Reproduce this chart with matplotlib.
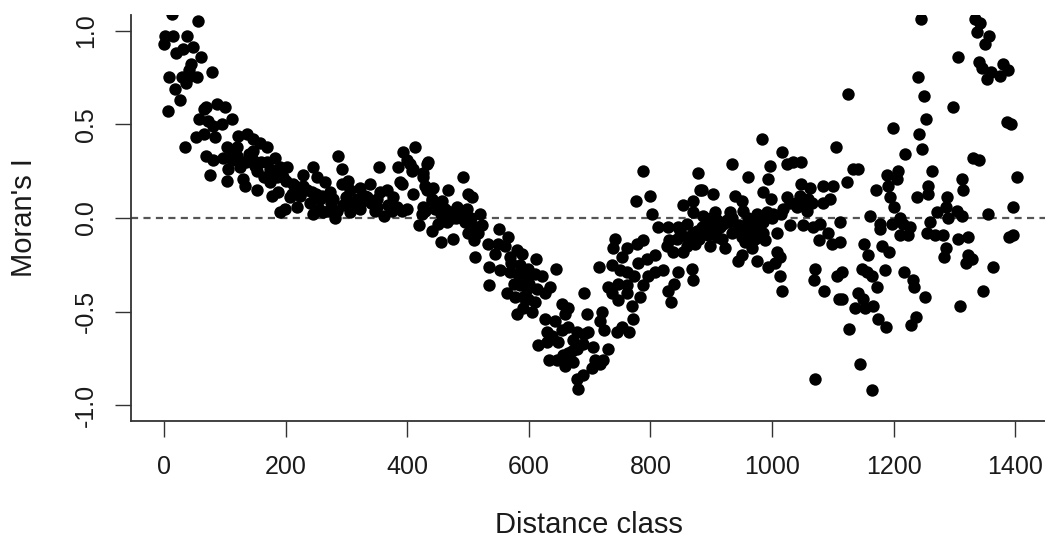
import matplotlib
matplotlib.use("Agg")
import matplotlib.pyplot as plt
import numpy as np

# left to right more or less
dist_a = [13, 56, 2, 15, 38, 0, 48, 31, 20, 61, 44, 41, 79, 8, 30, 54, 39, 36, 18, 26, 7, 69, 87, 100, 66, 112, 58, 72, 95, 81, 66, 53, 84, 35,
          122, 137, 146, 158, 169, 104, 120, 146, 69, 81, 97, 112, 130, 146, 183, 169, 105, 76, 104, 130, 133, 153, 153, 174, 191, 202, 186, 174, 178, 188,
          191, 199, 219, 207, 212, 229, 245, 252, 265, 229, 243, 224, 257, 273, 278, 286, 293, 245, 270, 281, 285, 293, 303, 306, 322, 339, 317, 334, 306, 322,
          350, 367, 355, 347, 362, 354, 383, 400, 377, 388, 385, 413, 393, 400, 410, 433, 426, 410, 433, 426, 419]
moran_a = [1.09, 1.05, .97, .97, .97, .93, .91, .90, .88, .86, .82, .79, .78, .75, .75, .75, .75, .72, .69, .63, .57, .59, .61, .59, .58, .53, .53, .52, .50, .49, .45, .43, .43, .38,
           .44, .45, .42, .40, .38, .38, .38, .36, .33, .31, .32, .31, .30, .31, .32, .30, .26, .23, .20, .21, .17, .25, .15, .26, .27, .27, .22, .19, .12, .14,
           .03, .05, .06, .11, .18, .23, .27, .22, .19, .17, .14, .12, .10, .14, .10, .33, .26, .02, .04, 0, .04, .18, .20, .15, .16, .18, .10, .11, .03, .05,
           .10, .15, .14, .04, .01, .27, .06, .05, .11, .19, .27, .38, .35, .31, .26, .29, .22, .13, .15, .06, -.04]

dist_b = [405, 408, 392, 434, 426, 492, 429, 443, 467, 500, 507, 457, 441, 392, 429, 424, 446, 462, 482, 498, 459, 474, 487, 520, 441, 456, 475, 503, 523, 507, 517, 510,
          551, 566, 533, 549, 561, 581, 589, 569, 544, 512, 535, 553, 569, 612, 599, 582, 622, 597, 645, 535, 635, 564, 577, 597, 614, 627, 599, 610, 591, 605, 581,
          691, 655, 665, 660, 696, 721, 627, 643, 717, 724, 665, 679, 697, 630, 638, 648, 673, 689, 706, 615, 630, 730, 671, 656, 633, 646, 673, 660, 709, 722, 717, 704, 689, 679, 681]
moran_b = [.29, .25, .18, .30, .24, .22, .17, .16, .15, .13, .11, .09, .09, .04, .04, .02, .05, .05, .06, .05, 0, 0, .01, .02, -.07, -.13, -.11, -.03, -.04, -.07, -.08, -.12,
           -.06, -.10, -.14, -.14, -.15, -.17, -.19, -.21, -.19, -.21, -.26, -.28, -.29, -.22, -.27, -.30, -.31, -.32, -.27, -.36, -.37, -.40, -.42, -.38, -.38, -.40, -.43, -.45, -.48, -.50, -.51,
           -.40, -.46, -.48, -.51, -.51, -.50, -.54, -.55, -.55, -.60, -.58, -.61, -.61, -.61, -.63, -.66, -.65, -.67, -.69, -.68, -.66, -.70, -.71, -.73, -.76, -.76, -.77, -.79, -.76, -.76, -.78, -.80, -.84, -.86, -.91]

dist_c = [745, 753, 765, 772, 770, 783, 788, 796, 808, 821, 846, 869, 870, 839, 829, 834, 730, 737, 747, 762, 762, 747, 716, 737, 750, 762, 773, 742, 739, 753, 762, 778, 788, 780, 795, 808,
          788, 776, 799, 803, 878, 882, 813, 829, 846, 860, 877, 844, 827, 837, 860, 873, 854, 870, 870]
moran_c = [-.61, -.58, -.61, -.54, -.47, -.42, -.36, -.31, -.29, -.28, -.29, -.27, -.33, -.35, -.39, -.45, -.37, -.40, -.44, -.40, -.36, -.35, -.26, -.25, -.28, -.29, -.31, -.11, -.16, -.21, -.16, -.14, -.12, -.24, -.22, -.20,
           .25, .09, .12, .02, .24, .15, -.05, -.05, -.05, -.03, -.07, -.11, -.15, -.18, -.15, -.14, .07, .09, .03]

dist_d = [984, 1017, 1105, 934, 997, 1025, 1035, 1048, 961, 994, 885, 903, 939, 985, 999, 1048, 1063, 1084, 1100, 1025, 1046, 1059, 1096, 1084, 951, 952, 906, 931, 992, 1018, 1041, 1058, 1002, 975, 887,
          910, 926, 964, 980, 901, 915, 887, 849, 944, 972, 961, 985, 1008, 1030, 1051, 1068, 1079, 1092, 1077, 1099, 1112, 1112, 918, 923, 972, 956, 989, 967, 898, 854, 1008, 1013, 951, 944, 975, 1005, 994, 1013, 1017,
          1071, 1069, 1107, 1086, 1110, 1115]
moran_d = [.42, .35, .38, .29, .28, .29, .30, .30, .22, .21, .15, .13, .12, .14, .10, .18, .16, .17, .17, .11, .12, .10, .10, .08, .09, .04, .03, .03, .03, .05, .06, .04, .02, .02, .01,
           -.01, -.01, -.02, -.03, -.06, -.05, -.08, -.07, -.06, -.06, -.09, -.08, -.08, -.04, -.04, -.05, -.03, -.08, -.12, -.14, -.13, -.02, -.11, -.16, -.11, -.13, -.12, -.16, -.15, -.18, -.18, -.21, -.20, -.23, -.23, -.24, -.26, -.31, -.39,
           -.27, -.33, -.31, -.39, -.43, -.29]

dist_e = [1125, 1250, 1298, 1254, 1387, 1393, 1199, 1242, 1247, 1219, 1331, 1341, 1133, 1142, 1263, 1403, 1189, 1207, 1206, 1313, 1124, 1191, 1314, 1257, 1257, 1171, 1288, 1239, 1194, 1201, 1397, 1286, 1272, 1305, 1313, 1355, 1161,
          1211, 1260, 1290, 1178, 1178, 1198, 1216, 1227, 1211, 1224, 1255, 1268, 1281, 1397, 1390, 1306, 1323, 1152, 1286, 1283, 1181, 1193, 1158, 1323, 1329, 1319, 1364, 1148, 1156, 1186, 1165, 1217, 1232, 1234, 1173, 1347, 1252,
          1115, 1142, 1150, 1137, 1153, 1166, 1309, 1175, 1188, 1237, 1229, 1127, 1145, 1071, 1165,
          1245, 1334, 1342, 1337, 1357, 1351, 1306, 1341, 1346, 1360, 1354, 1375, 1380, 1388, 1240]
moran_e = [.66, .65, .59, .53, .51, .50, .48, .45, .37, .34, .32, .31, .26, .26, .25, .22, .23, .25, .21, .21, .19, .17, .15, .17, .13, .15, .11, .11, .11, .06, .06, .06, .03, .04, .01, .02, .01,
           0, -.02, 0, -.03, -.06, -.03, -.03, -.05, -.09, -.09, -.08, -.09, -.09, -.09, -.10, -.11, -.10, -.14, -.16, -.21, -.15, -.18, -.20, -.20, -.22, -.24, -.26, -.27, -.29, -.28, -.31, -.29, -.33, -.37, -.37, -.39, -.42,
           -.43, -.40, -.43, -.48, -.48, -.47, -.47, -.54, -.58, -.53, -.57, -.59, -.78, -.86, -.92,
           1.06, 1.06, 1.04, .99, .97, .93, .86, .83, .80, .78, .74, .76, .82, .79, .75]

# the black blobs, where single points can't be told apart
dist_f = [200, 215, 235, 250, 260, 275, 240, 255, 262, 295, 310, 325, 340, 350, 368, 375, 330, 300, 210, 195, 180, 165, 135, 120, 160, 150, 125, 112, 140,
          440, 455, 470, 480, 465, 450, 490, 505, 515, 495, 500,
          570, 585, 575, 585, 600, 610, 590, 655, 690, 680, 665, 660,
          900, 905, 920, 930, 945, 955, 965, 895, 935, 950, 895, 885, 910, 935, 960, 975, 985, 1040, 1030, 1055, 1015, 1065, 1000, 830, 860, 870, 880]
moran_f = [.20, .17, .15, .13, .12, .08, .08, .05, .03, .07, .08, .09, .08, .06, .07, .04, .12, .11, .13, .22, .24, .22, .30, .33, .30, .28, .27, .36, .34,
           .10, .02, .03, 0, -.02, -.03, 0, 0, -.05, -.02, -.08,
           -.24, -.25, -.35, -.36, -.35, -.30, -.42, -.60, -.62, -.70, -.72, -.75,
           0, -.02, -.03, -.02, -.04, -.05, -.05, -.03, -.08, -.10, -.09, -.05, -.10, 0, 0, -.05, -.02, .08, .08, .07, .02, .08, 0, -.12, -.10, -.08, -.11]

x_ticks = [0, 200, 400, 600, 800, 1000, 1200, 1400]
y_ticks = [-1.0, -0.5, 0.0, 0.5, 1.0]

plt.rcParams['font.family'] = ['Liberation Sans', 'DejaVu Sans']

W, H = 1045, 540
fig = plt.figure(figsize=(W / 100, H / 100), dpi=100)
ax = fig.add_axes([131 / W, 1 - 421 / H, (W - 131) / W, (421 - 15) / H])

dist = np.array(dist_a + dist_b + dist_c + dist_d + dist_e + dist_f)
moran = np.array(moran_a + moran_b + moran_c + moran_d + moran_e + moran_f)

ax.scatter(dist, moran, s=80, c='black', linewidths=0, zorder=3)
ax.axhline(0, color='#555555', lw=1.6, dashes=(3.2, 2.4), zorder=2)

ax.set_xlim(-54.3, 1449)
ax.set_ylim(-1.083, 1.083)
ax.spines['top'].set_visible(False)
ax.spines['right'].set_visible(False)
for side in ['left', 'bottom']:
    ax.spines[side].set_linewidth(1.3)
    ax.spines[side].set_color('#333333')

ax.set_xticks(x_ticks)
ax.set_yticks(y_ticks)
ax.set_yticklabels([f"{v:.1f}" for v in y_ticks], rotation=90, va='center')
ax.tick_params(axis='both', length=11.5, width=1.0, color='#333333', labelsize=18, labelcolor='#1a1a1a')
ax.tick_params(axis='x', pad=13)
ax.tick_params(axis='y', pad=12)

fig.text(24 / W, 1 - 218 / H, "Moran's I", rotation=90, ha='center', va='center', fontsize=21, color='#1a1a1a')
fig.text(589 / W, 1 - 525 / H, "Distance class", ha='center', va='center', fontsize=21, color='#1a1a1a')

fig.savefig("out.png", dpi=100)
